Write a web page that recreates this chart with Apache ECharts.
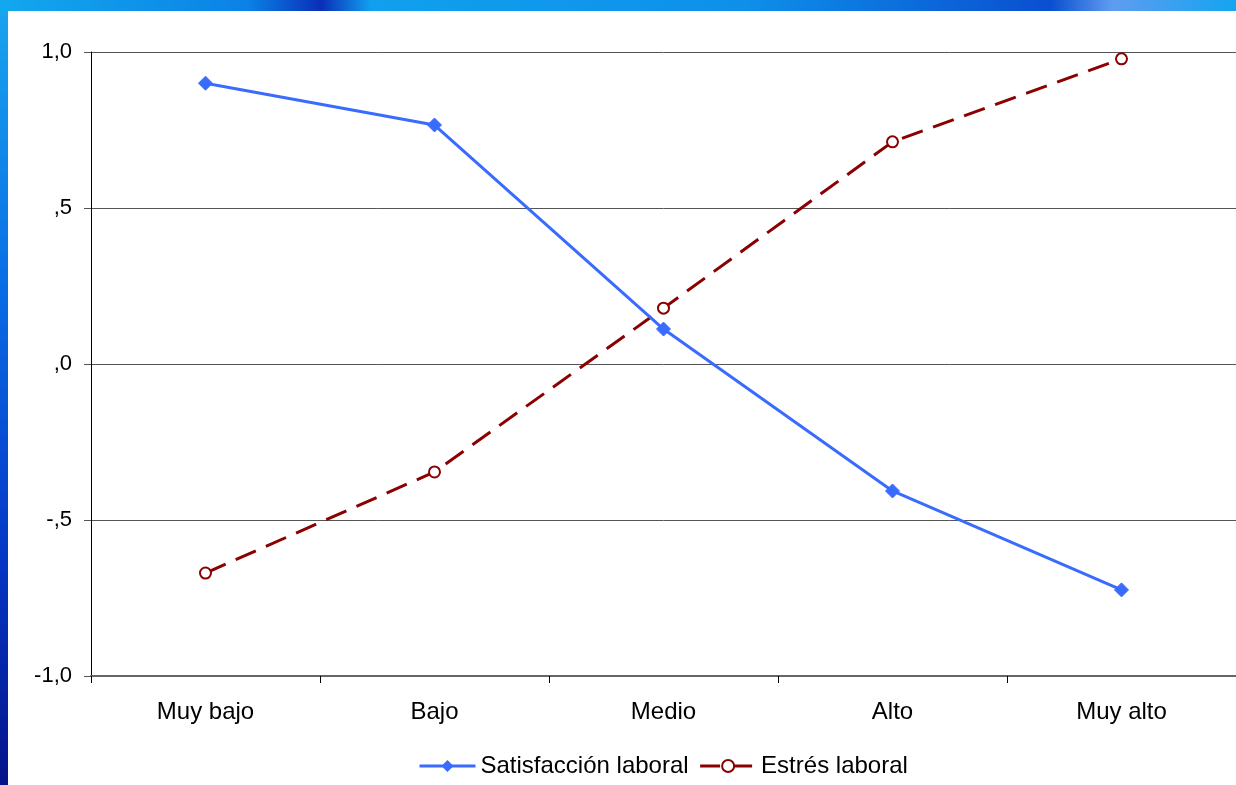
<!DOCTYPE html>
<html>
<head>
<meta charset="utf-8">
<script src="https://cdn.jsdelivr.net/npm/echarts@6/dist/echarts.min.js"></script>
<style>
html,body{margin:0;padding:0;width:1236px;height:785px;overflow:hidden;}
body{background:linear-gradient(180deg,#19a6ee 0%,#0a6fe6 35%,#0637c8 70%,#04148a 100%);position:relative;}
#topstrip{position:absolute;left:0;top:0;width:1236px;height:11px;background:linear-gradient(90deg,#12a8ee 0%,#0b82e6 20%,#0a2fb8 26%,#10a0ee 30%,#0e90ea 60%,#0a4fd0 85%,#5f9cf0 90%,#13a5ef 100%);}
#chart{position:absolute;left:8px;top:11px;width:1228px;height:774px;background:#fff;}
</style>
</head>
<body>
<div id="topstrip"></div>
<div id="chart"></div>
<script>
const categories = ['Muy bajo', 'Bajo', 'Medio', 'Alto', 'Muy alto'];
const satisfaccion = [0.90, 0.766, 0.112, -0.407, -0.724];
const estres = [-0.670, -0.346, 0.179, 0.712, 0.978];
const yTicks = { '1': '1,0', '0.5': ',5', '0': ',0', '-0.5': '-,5', '-1': '-1,0' };

const chart = echarts.init(document.getElementById('chart'), null, { renderer: 'canvas' });
const font = 'Liberation Sans, Arial, sans-serif';
chart.setOption({
  animation: false,
  backgroundColor: '#ffffff',
  grid: { left: 83, right: 0, top: 41, bottom: 109, containLabel: false },
  legend: {
    bottom: 2,
    left: 405,
    itemWidth: 56,
    itemHeight: 15,
    itemGap: 10,
    textStyle: { fontFamily: font, fontSize: 24, color: '#000' },
    data: [
      { name: 'Satisfacción laboral', lineStyle: { width: 3, color: '#3a6bff' } },
      { name: 'Estrés laboral', lineStyle: { width: 3, color: '#8b0000', type: [20, 12] } }
    ]
  },
  xAxis: {
    type: 'category',
    data: categories,
    boundaryGap: true,
    axisLine: { show: true, onZero: false, lineStyle: { color: '#666', width: 2 } },
    axisTick: { show: true, length: 7, lineStyle: { color: '#000', width: 1 } },
    axisLabel: { fontFamily: font, fontSize: 24, color: '#000', margin: 24 },
    splitLine: { show: false }
  },
  yAxis: {
    type: 'value',
    min: -1, max: 1, interval: 0.5,
    axisLine: { show: true, onZero: false, lineStyle: { color: '#000', width: 1 } },
    axisTick: { show: true, length: 7, lineStyle: { color: '#555', width: 1 } },
    axisLabel: { fontFamily: font, fontSize: 22, color: '#000', margin: 19,
      formatter: v => yTicks[String(v)] },
    splitLine: { show: true, lineStyle: { color: '#555', width: 1 } }
  },
  series: [
    {
      name: 'Satisfacción laboral',
      type: 'line',
      data: satisfaccion,
      symbol: 'diamond',
      symbolSize: 14,
      lineStyle: { color: '#3a6bff', width: 3 },
      itemStyle: { color: '#3a6bff', borderColor: '#3a6bff' },
      z: 3
    },
    {
      name: 'Estrés laboral',
      type: 'line',
      data: estres,
      symbol: 'circle',
      symbolSize: 11,
      lineStyle: { color: '#8b0000', width: 3, type: [22, 11] },
      itemStyle: { color: '#ffffff', borderColor: '#8b0000', borderWidth: 2 },
      z: 2
    }
  ]
});
</script>
</body>
</html>
